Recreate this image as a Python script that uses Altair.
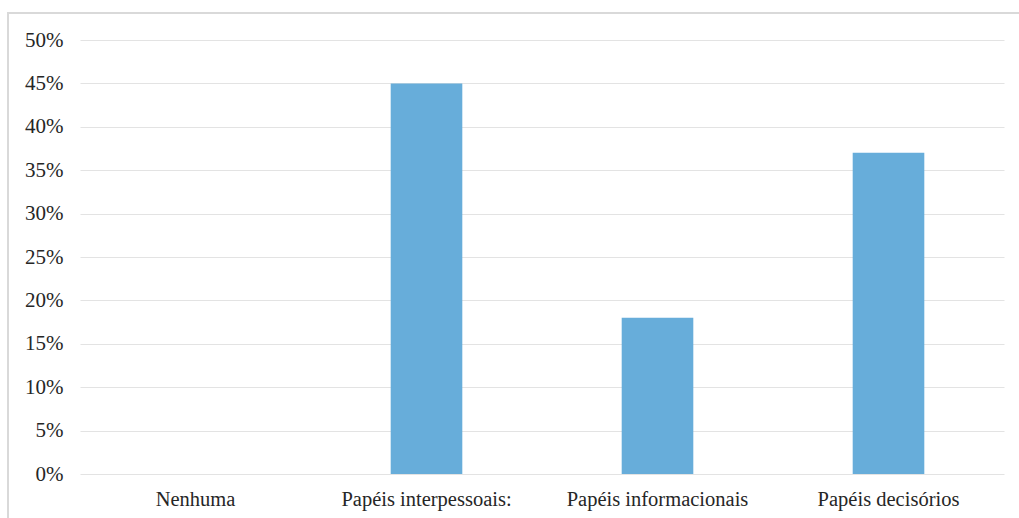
import altair as alt
import pandas as pd

categories = ["Nenhuma", "Papéis interpessoais:", "Papéis informacionais", "Papéis decisórios"]
values = [0.0, 0.45, 0.18, 0.37]

df = pd.DataFrame({"cat": categories, "val": values})

FONT = "Liberation Serif"

bars = alt.Chart(df).mark_bar(color="#67ADDA").encode(
    x=alt.X("cat:N", sort=categories, title=None,
            scale=alt.Scale(paddingInner=0.69, paddingOuter=0.345),
            axis=alt.Axis(labelAngle=0, labelFont=FONT, labelFontSize=20.5,
                          labelColor="#262626", ticks=False, domain=False,
                          labelPadding=15, labelLimit=400, grid=False)),
    y=alt.Y("val:Q", title=None,
            scale=alt.Scale(domain=[0, 0.5]),
            axis=alt.Axis(format=".0%", values=[i / 100 for i in range(0, 51, 5)],
                          labelFont=FONT, labelFontSize=21, labelColor="#262626",
                          ticks=False, domain=False, labelPadding=17,
                          gridColor="#e3e3e3", gridWidth=1)),
)

frame_left = alt.Chart(df).mark_rule(color="#d9d9d9", strokeWidth=2, clip=False).encode(
    x=alt.value(-72), y=alt.value(-27), y2=alt.value(480)
)
frame_top = alt.Chart(df).mark_rule(color="#d9d9d9", strokeWidth=2, clip=False).encode(
    x=alt.value(-73), x2=alt.value(940), y=alt.value(-27)
)

chart = alt.layer(bars, frame_left, frame_top).properties(
    width=924, height=434,
    autosize=alt.AutoSizeParams(type="none"),
    padding={"left": 80, "top": 40, "right": 15, "bottom": 44},
).configure_view(stroke=None)

chart.save("out.html", embed_options={"renderer": "svg", "actions": False})
